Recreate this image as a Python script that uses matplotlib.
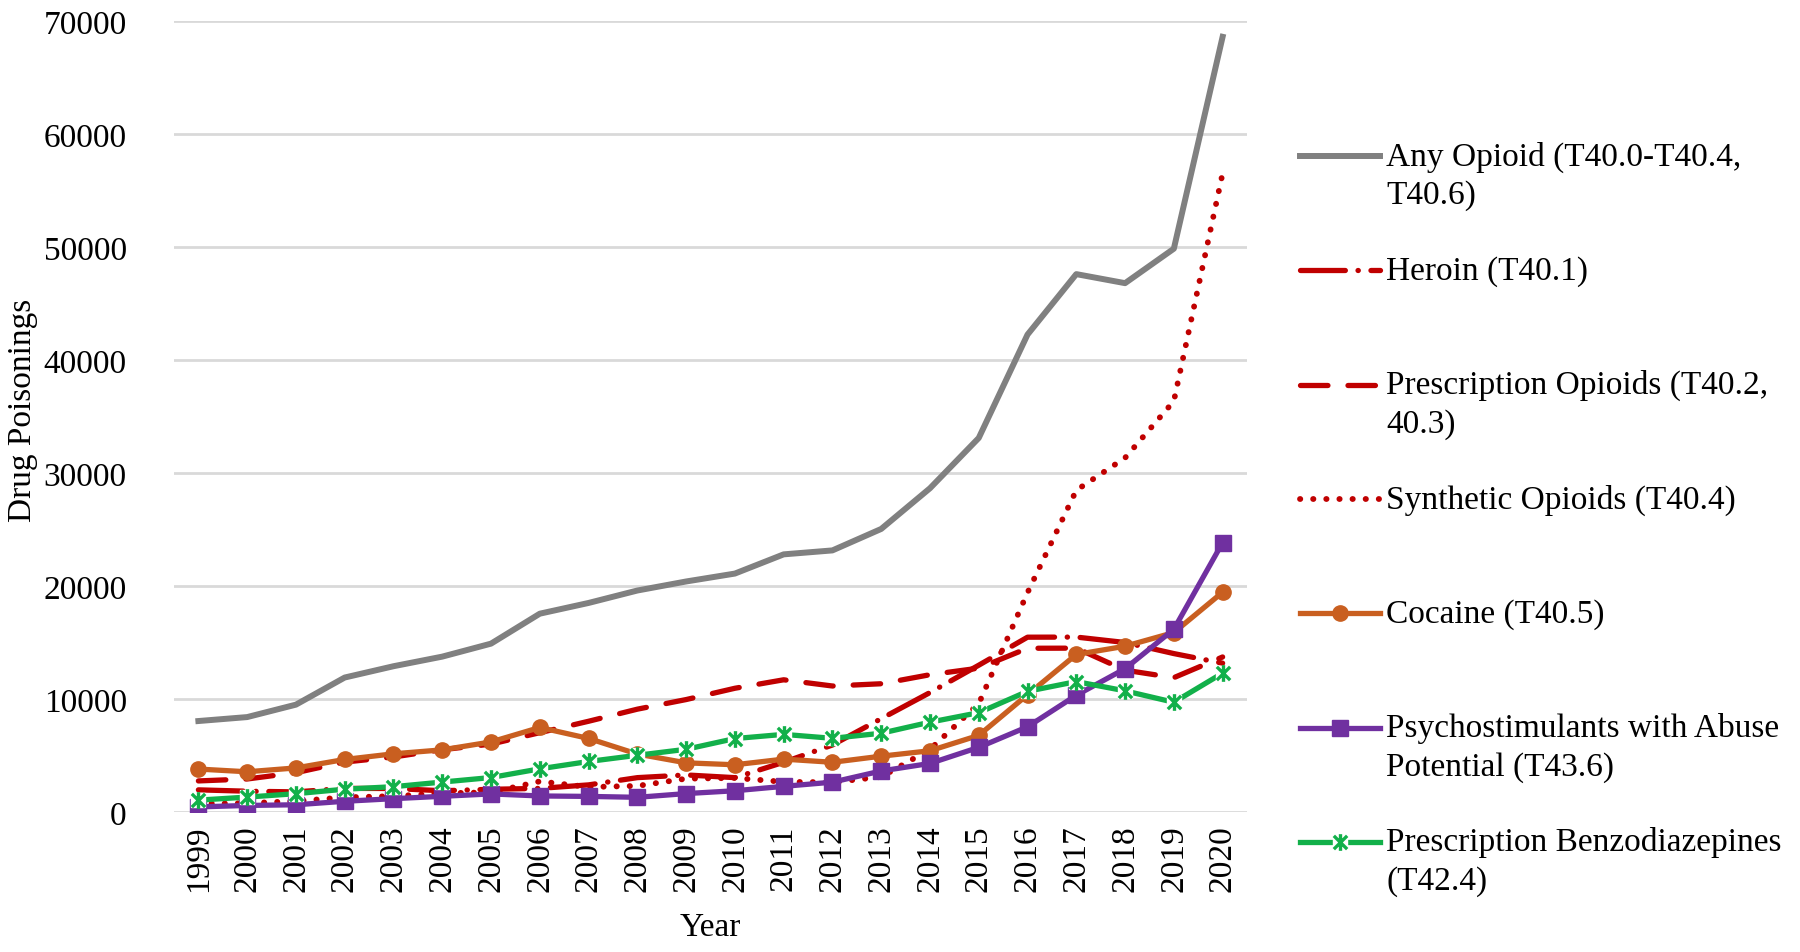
import matplotlib
matplotlib.use('Agg')
import matplotlib.pyplot as plt
from matplotlib.lines import Line2D
from matplotlib.path import Path

plt.rcParams['font.family'] = ['Liberation Serif', 'DejaVu Serif']

# Jahre / Werte
years = list(range(1999, 2021))

any_opioid = [8050, 8400, 9500, 11900, 12900, 13750, 14900, 17550, 18500, 19600, 20400,
              21100, 22800, 23150, 25050, 28650, 33100, 42250, 47600, 46800, 49850, 68600]
heroin = [1960, 1840, 1780, 2090, 2080, 1880, 2010, 2090, 2400, 3040, 3280,
          3040, 4400, 5930, 8260, 10570, 12990, 15470, 15480, 15000, 14020, 13170]
rx_opioids = [2750, 2920, 3480, 4420, 4870, 5510, 6010, 7020, 8030, 9100, 9950,
              10950, 11700, 11150, 11350, 12150, 12730, 14490, 14500, 12550, 11890, 13720]
synthetic = [730, 780, 960, 1300, 1400, 1660, 1740, 2710, 2210, 2310, 2950,
             3010, 2670, 2630, 3110, 5540, 9580, 19410, 28470, 31340, 36360, 56520]
cocaine = [3800, 3560, 3900, 4650, 5150, 5500, 6200, 7480, 6510, 5130, 4350,
           4180, 4680, 4400, 4940, 5420, 6780, 10380, 13940, 14670, 15880, 19450]
psychostim = [450, 580, 640, 950, 1180, 1390, 1600, 1420, 1380, 1300, 1630,
              1880, 2270, 2640, 3630, 4300, 5720, 7540, 10330, 12680, 16170, 23840]
benzo = [1050, 1320, 1620, 2020, 2240, 2650, 3050, 3820, 4470, 5020, 5550,
         6500, 6870, 6520, 6970, 7950, 8790, 10680, 11540, 10720, 9710, 12290]

labels = ['Any Opioid (T40.0-T40.4,\nT40.6)',
          'Heroin (T40.1)',
          'Prescription Opioids (T40.2,\n40.3)',
          'Synthetic Opioids (T40.4)',
          'Cocaine (T40.5)',
          'Psychostimulants with Abuse\nPotential (T43.6)',
          'Prescription Benzodiazepines\n(T42.4)']

# Sternchen-Marker (x + senkrechter Strich)
star = Path([(-1, -1), (1, 1), (-1, 1), (1, -1), (0, -1.25), (0, 1.25)],
            [Path.MOVETO, Path.LINETO, Path.MOVETO, Path.LINETO, Path.MOVETO, Path.LINETO])

gray = '#808080'
red = '#c00000'
orange = '#c95f20'
purple = '#7030a0'
green = '#12b04a'

styles = [
    dict(color=gray, lw=4.3),
    dict(color=red, lw=3.8, dashes=(8.5, 2.4, 0.05, 2.4), dash_capstyle='round'),
    dict(color=red, lw=3.8, dashes=(5.2, 3.8), dash_capstyle='round'),
    dict(color=red, lw=4.2, dashes=(0.05, 2.2), dash_capstyle='round'),
    dict(color=orange, lw=3.8, marker='o', ms=11),
    dict(color=purple, lw=3.8, marker='s', ms=11),
    dict(color=green, lw=3.8),
]
series = [any_opioid, heroin, rx_opioids, synthetic, cocaine, psychostim, benzo]

fig = plt.figure(figsize=(18, 9.53), dpi=100)
ax = fig.add_axes([174 / 1800, 1 - 813 / 953, 1073 / 1800, 791 / 953])

for i, (vals, st) in enumerate(zip(series, styles)):
    ax.plot(years, vals, zorder=3 + i, **st)
# Benzodiazepine-Marker mit weissem Hintergrund
ax.plot(years, benzo, linestyle='none', marker='s', ms=10, color='white', zorder=11)
ax.plot(years, benzo, linestyle='none', marker=star, ms=12, mew=2.4,
        markeredgecolor=green, zorder=12)

ax.set_xlim(1998.5, 2020.5)
ax.set_ylim(0, 70000)
ax.set_yticks(range(0, 70001, 10000))
ax.set_xticks(years)
ax.set_xticklabels([str(y) for y in years], rotation=90, fontsize=24)
ax.tick_params(axis='y', labelsize=24, length=0, pad=34)
ax.tick_params(axis='x', length=0, pad=9)
ax.yaxis.grid(True, color='#d9d9d9', lw=2)
ax.set_axisbelow(True)
for s in ax.spines.values():
    s.set_visible(False)

fig.text(23 / 1800, 1 - 410 / 953, 'Drug Poisonings', rotation=90, fontsize=24,
         ha='center', va='center')
fig.text(710 / 1800, 1 - 928 / 953, 'Year', fontsize=24, ha='center', va='center')

# Legende (manuell, rechts)
leg_top = 157
pitch = 114.3
line_gap = 39
for i, (lab, st) in enumerate(zip(labels, styles)):
    y = 1 - (leg_top + i * pitch) / 953
    h = Line2D([1300 / 1800, 1380 / 1800], [y, y], transform=fig.transFigure, **st)
    if 'marker' in st:
        h.set_markevery([])
        fig.add_artist(h)
        fig.add_artist(Line2D([1340 / 1800], [y], transform=fig.transFigure,
                              color=st['color'], marker=st['marker'], ms=st['ms'],
                              linestyle='none'))
    else:
        fig.add_artist(h)
    if i == 6:
        fig.add_artist(Line2D([1340 / 1800], [y], transform=fig.transFigure,
                              linestyle='none', marker='s', ms=10, color='white'))
        fig.add_artist(Line2D([1340 / 1800], [y], transform=fig.transFigure,
                              linestyle='none', marker=star, ms=12, mew=2.4,
                              markeredgecolor=green))
    for j, part in enumerate(lab.split('\n')):
        fig.text(1386 / 1800, y - j * line_gap / 953, part, fontsize=24,
                 ha='left', va='center')

fig.savefig('out.png', dpi=100)
